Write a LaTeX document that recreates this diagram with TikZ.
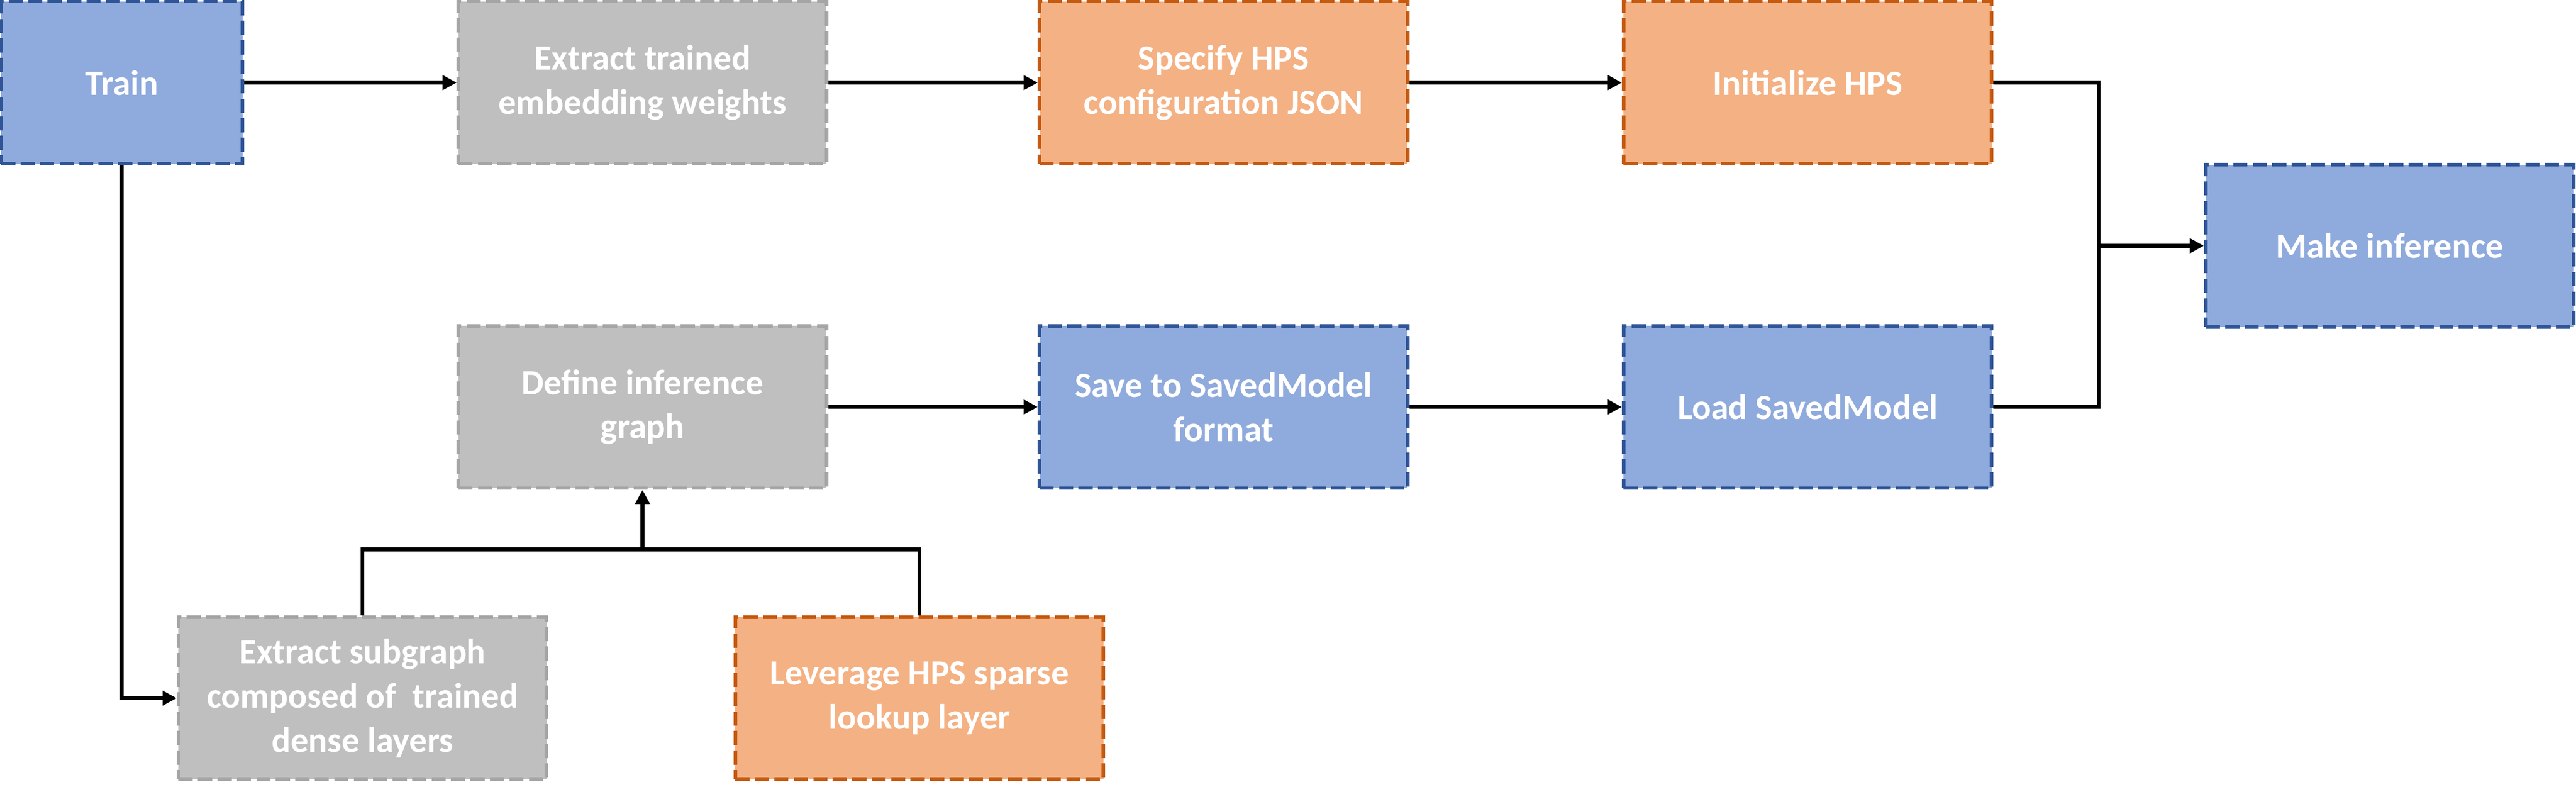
\documentclass[tikz,border=0pt]{standalone}
\usepackage{fontspec}
\setmainfont{Carlito}
\usepackage{xcolor}
\usepackage{tikz}
\usetikzlibrary{arrows.meta}

\definecolor{bluefill}{HTML}{8FAADC}
\definecolor{blueline}{HTML}{2F5597}
\definecolor{grayfill}{HTML}{BFBFBF}
\definecolor{grayline}{HTML}{A5A5A5}
\definecolor{orangefill}{HTML}{F4B183}
\definecolor{orangeline}{HTML}{C55A11}

\begin{document}
\begin{tikzpicture}[
            every node/.style={rectangle, align=center, text=white, font=\fontsize{20}{25}\selectfont\bfseries,
                               minimum width=7.31cm, minimum height=3.22cm, line width=2pt, dash pattern=on 8pt off 3pt},
            bluebox/.style={draw=blueline, fill=bluefill},
            graybox/.style={draw=grayline, fill=grayfill},
            orangebox/.style={draw=orangeline, fill=orangefill},
            link/.style={line width=2.2pt, black},
            arrow/.style={link, -{Triangle[length=8pt, width=8pt]}}
        ]
        \useasboundingbox (0,0) rectangle (51.16,15.62);
        % Top row
        \node[bluebox, minimum width=4.79cm] (train) at (2.42,13.98) {Train};
        \node[graybox] (extract) at (12.76,13.98) {Extract trained\\embedding weights};
        \node[orangebox] (specify) at (24.30,13.98) {Specify HPS\\configuration JSON};
        \node[orangebox] (init) at (35.90,13.98) {Initialize HPS};
        % Middle row
        \node[graybox] (define) at (12.76,7.54) {Define inference\\graph};
        \node[bluebox] (save) at (24.30,7.54) {Save to SavedModel\\format};
        \node[bluebox] (load) at (35.90,7.54) {Load SavedModel};
        \node[bluebox] (infer) at (47.46,10.74) {Make inference};
        % Bottom row
        \node[graybox] (subgraph) at (7.20,1.76) {Extract subgraph\\composed of~ trained\\dense layers};
        \node[orangebox] (sparse) at (18.26,1.76) {Leverage HPS sparse\\lookup layer};
        % Joints
        \coordinate (join) at (41.68,10.74);
        \coordinate (merge) at (12.76,4.71);
        % Connectors
        \draw[arrow] (train) -- (extract);
        \draw[arrow] (extract) -- (specify);
        \draw[arrow] (specify) -- (init);
        \draw[link] (init.east) -| (join);
        \draw[link] (load.east) -| (join);
        \draw[arrow] (join) -- (infer.west);
        \draw[arrow] (define) -- (save);
        \draw[arrow] (save) -- (load);
        \draw[arrow] (train.south) |- (subgraph.west);
        \draw[link] (subgraph.north) |- (merge);
        \draw[link] (sparse.north) |- (merge);
        \draw[arrow] (merge) -- (define.south);
    \end{tikzpicture}
\end{document}
